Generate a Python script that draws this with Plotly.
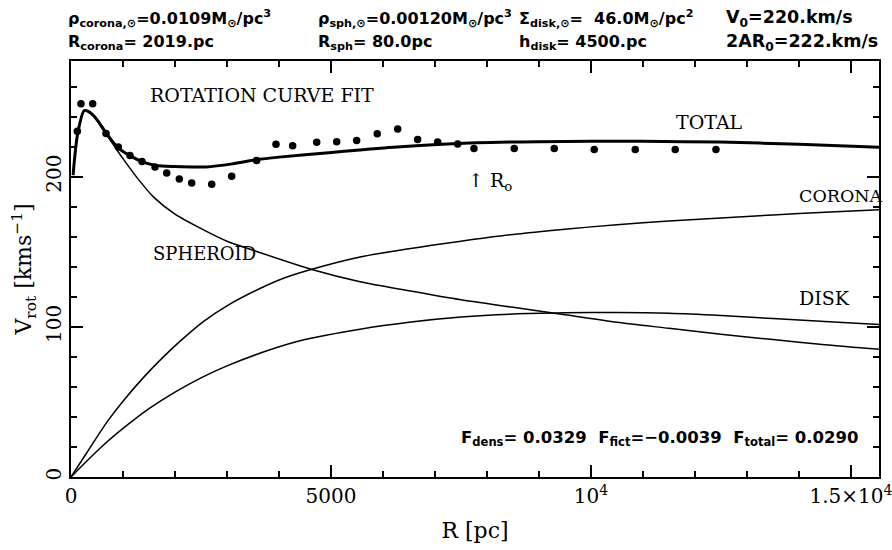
import plotly.graph_objects as go

# Observed rotation curve points
obs_R = [121, 192, 417, 673, 910, 1135, 1365, 1615, 1840, 2083, 2321, 2706, 3090, 3571,
         3942, 4263, 4725, 5110, 5494, 5890, 6283, 6667, 7052, 7437, 7750, 8525, 9294,
         10063, 10852, 11621, 12404]
obs_V = [230.2, 248.5, 248.5, 228.7, 219.8, 214.0, 210.0, 206.5, 202.5, 198.5, 195.8, 194.9,
         200.2, 210.7, 221.5, 220.5, 222.9, 223.3, 224.0, 228.5, 231.8, 224.7, 223.1, 221.7,
         218.7, 218.7, 218.7, 218.0, 218.0, 218.0, 218.0]

# Model curves
tot_R = [40, 130, 255, 330, 450, 600, 700, 910, 1135, 1365, 1620, 2000, 2600, 3100, 3570,
         4000, 4900, 6200, 7800, 9000, 10000, 11000, 12480, 14000, 15540]
tot_V = [201, 229, 244, 243.5, 240, 233, 228, 219, 214, 210, 207.5, 206.7, 206.5, 208.5, 211.3,
         213, 215.8, 219.5, 222.5, 223.3, 223.5, 223.5, 223, 221.5, 219.5]

sph_R = [40, 130, 255, 330, 450, 600, 800, 1000, 1300, 1600, 2000, 2540, 3000, 3500, 4650,
         5560, 6500, 7500, 8500, 9500, 10500, 11500, 12500, 13500, 14500, 15540]
sph_V = [201, 229, 244, 243.5, 240, 232, 222, 212, 198, 186, 175, 164.7, 157, 151, 138,
         130, 124, 118, 113, 108, 103, 99, 95, 91.5, 88, 85]

cor_R = [0, 300, 711, 1000, 1400, 1776, 2100, 2545, 3000, 3635, 4100, 4650, 5560, 6500,
         7500, 8500, 9500, 10500, 11500, 12500, 13500, 14500, 15540]
cor_V = [0, 16, 37.5, 50.5, 66.5, 80, 90.5, 103.5, 114, 125.5, 132.5, 138.5, 146.5, 152,
         157, 161.5, 165, 168, 170.5, 172.5, 174.5, 176.3, 178]

disk_R = [0, 300, 600, 900, 1190, 1500, 2000, 2500, 3000, 3827, 4500, 5560, 6500, 7500, 8500,
          9500, 10500, 11500, 12500, 13500, 14500, 15540]
disk_V = [0, 10.5, 20.5, 29.5, 37.5, 45.5, 56.5, 66, 74, 84.7, 91.5, 98.4, 103, 106.5, 108.5,
          109.3, 109.5, 109, 107.5, 105.5, 103.5, 101.5]

x_ticks = [0, 5000, 10000, 15000]
x_ticklabels = ["0", "5000", "10<sup>4</sup>", "1.5×10<sup>4</sup>"]
y_ticks = [0, 100, 200]
y_ticklabels = ["0", "100", "200"]

SERIF = "DejaVu Serif"
SANS = "DejaVu Sans"

fig = go.Figure()
for R, V, w in [(sph_R, sph_V, 1.5), (cor_R, cor_V, 1.5), (disk_R, disk_V, 1.5), (tot_R, tot_V, 3)]:
    fig.add_trace(go.Scatter(x=R, y=V, mode="lines", line=dict(color="black", width=w, shape="spline", smoothing=0.8),
                             showlegend=False, hoverinfo="skip"))
fig.add_trace(go.Scatter(x=obs_R, y=obs_V, mode="markers",
                         marker=dict(color="black", size=7.5), showlegend=False))

axis_common = dict(showline=True, linecolor="black", linewidth=2, mirror="ticks",
                   ticks="inside", tickcolor="black", tickwidth=1.5, showgrid=False,
                   zeroline=False, ticklabeloverflow="allow", automargin=False,
                   tickfont=dict(family=SERIF, size=20, color="black"))
fig.update_xaxes(range=[0, 15540], tickvals=x_ticks, ticktext=x_ticklabels, ticklen=12,
                 minor=dict(dtick=1000, ticklen=6, ticks="inside", tickcolor="black", tickwidth=1.5),
                 title=dict(text="R [pc]", font=dict(family=SERIF, size=22, color="black"), standoff=16),
                 **axis_common)
fig.update_yaxes(range=[0, 277], tickvals=y_ticks, ticktext=y_ticklabels, ticklen=12, tickangle=-90,
                 minor=dict(dtick=20, ticklen=6, ticks="inside", tickcolor="black", tickwidth=1.5),
                 title=dict(text="V<sub>rot</sub> [kms<sup>−1</sup>]", font=dict(family=SERIF, size=22, color="black"), standoff=4),
                 **axis_common)

ann = []

def px(xp, yp, s, size=19, family=SERIF):
    # pixel positions in page -> paper coords
    X = (xp - 71) / (879 - 71)
    Y = (477 - yp) / (477 - 61)
    ann.append(dict(x=X, y=Y, xref="paper", yref="paper", text=s, showarrow=False,
                    xanchor="left", yanchor="middle",
                    font=dict(family=family, size=size, color="black")))

px(148, 95, "ROTATION CURVE FIT")
px(674, 122, "TOTAL")
px(797, 196, "CORONA", 17.5)
px(151, 253, "SPHEROID", 18)
px(797, 298, "DISK")
px(466, 181, "↑ R<sub>o</sub>")
px(459, 438, "<b>F<sub>dens</sub>= 0.0329  F<sub>fict</sub>=−0.0039  F<sub>total</sub>= 0.0290</b>", 16.5, SANS)

HS = 16
px(66, 18, "<b>ρ<sub>corona,⊙</sub>=0.0109M<sub>⊙</sub>/pc<sup>3</sup></b>", HS, SANS)
px(316, 18, "<b>ρ<sub>sph,⊙</sub>=0.00120M<sub>⊙</sub>/pc<sup>3</sup></b>", HS, SANS)
px(517, 18, "<b>Σ<sub>disk,⊙</sub>=  46.0M<sub>⊙</sub>/pc<sup>2</sup></b>", HS, SANS)
px(724, 18, "<b>V<sub>0</sub>=220.km/s</b>", 17.5, SANS)
px(66, 42, "<b>R<sub>corona</sub>= 2019.pc</b>", HS, SANS)
px(316, 42, "<b>R<sub>sph</sub>= 80.0pc</b>", HS, SANS)
px(517, 42, "<b>h<sub>disk</sub>= 4500.pc</b>", HS, SANS)
px(724, 42, "<b>2AR<sub>0</sub>=222.km/s</b>", 17.5, SANS)

fig.update_layout(width=892, height=550, margin=dict(l=71, r=13, t=61, b=73, autoexpand=False),
                  paper_bgcolor="white", plot_bgcolor="white", annotations=ann)
fig.write_html("out.html")
